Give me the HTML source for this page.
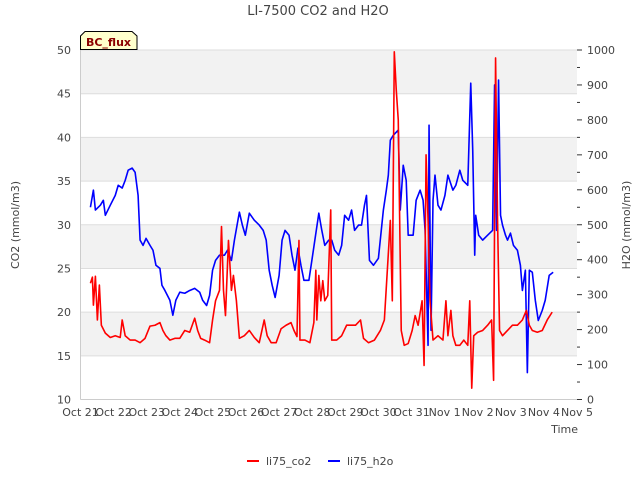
<!DOCTYPE html>
<html><head><meta charset="utf-8"><style>
body{margin:0;background:#fff;}
svg text{font-family:"DejaVu Sans","Liberation Sans",sans-serif;fill:#444;}
</style></head><body>
<svg id="chart" width="640" height="480" xmlns="http://www.w3.org/2000/svg">
<text x="318" y="15" font-size="13" text-anchor="middle">LI-7500 CO2 and H2O</text>
<g id="bands"></g><g id="grid"></g>
<line x1="80.5" y1="50" x2="80.5" y2="399.5" stroke="#ccc"/>
<line x1="80.5" y1="399.5" x2="577" y2="399.5" stroke="#ccc"/>
<g id="lticks"></g><g id="rticks"></g><g id="xticks"></g>
<g id="series"></g>
<text x="19" y="225" font-size="11" text-anchor="middle" transform="rotate(-90 19 225)">CO2 (mmol/m3)</text>
<text x="630" y="225" font-size="11" text-anchor="middle" transform="rotate(-90 630 225)">H2O (mmol/m3)</text>
<text x="578" y="433" font-size="11" text-anchor="end">Time</text>
<g>
<path d="M80.5,49.5 L80.5,36 L85,31.5 L132,31.5 L137,36 L137,49.5 Z" fill="#ffffcc" stroke="#000"/>
<text x="108.5" y="46" font-size="11" font-weight="bold" text-anchor="middle" style="fill:#8b0000">BC_flux</text>
</g>
<g>
<g><line x1="247" y1="461" x2="259" y2="461" stroke="red" stroke-width="2"/><text x="266" y="465" font-size="11">li75_co2</text></g>
<g><line x1="328" y1="461" x2="340" y2="461" stroke="blue" stroke-width="2"/><text x="347" y="465" font-size="11">li75_h2o</text></g>
</g>
</svg>
<script>
const xTickLabels=["Oct 21","Oct 22","Oct 23","Oct 24","Oct 25","Oct 26","Oct 27","Oct 28","Oct 29","Oct 30","Oct 31","Nov 1","Nov 2","Nov 3","Nov 4","Nov 5"];
const co2Ticks=[10,15,20,25,30,35,40,45,50];
const h2oTicks=[0,100,200,300,400,500,600,700,800,900,1000];
const h2oDays=[0.30,0.39,0.45,0.60,0.69,0.75,0.90,1.05,1.14,1.26,1.35,1.44,1.56,1.65,1.74,1.80,1.89,1.98,2.10,2.19,2.28,2.40,2.46,2.55,2.70,2.79,2.88,3.00,3.15,3.30,3.45,3.60,3.69,3.81,3.90,3.99,4.08,4.20,4.35,4.44,4.56,4.65,4.80,4.89,4.98,5.10,5.25,5.40,5.52,5.61,5.70,5.79,5.88,6.00,6.09,6.18,6.30,6.39,6.48,6.57,6.66,6.75,6.90,6.99,7.08,7.20,7.29,7.38,7.50,7.59,7.68,7.80,7.89,7.98,8.10,8.19,8.28,8.40,8.49,8.58,8.64,8.73,8.85,9.00,9.15,9.24,9.30,9.36,9.45,9.60,9.66,9.75,9.84,9.90,10.05,10.14,10.26,10.35,10.41,10.50,10.53,10.59,10.65,10.71,10.80,10.89,11.01,11.10,11.25,11.34,11.46,11.55,11.70,11.79,11.85,11.91,11.94,12.03,12.15,12.30,12.45,12.51,12.57,12.63,12.69,12.75,12.84,12.90,12.99,13.08,13.20,13.29,13.35,13.44,13.50,13.56,13.65,13.74,13.83,13.95,14.04,14.16,14.28];
const h2oVals=[550,599,542,556,570,527,556,584,613,605,627,656,662,650,584,456,441,461,441,427,384,375,327,312,284,241,284,307,304,312,318,307,284,269,298,370,398,413,413,427,398,456,536,499,470,533,513,499,484,456,370,327,292,355,456,484,470,413,370,433,384,341,341,398,456,533,484,441,456,456,427,413,441,527,513,542,484,499,499,556,584,398,384,404,542,599,642,742,756,771,542,670,627,470,470,570,599,570,484,155,785,198,570,642,556,542,584,642,599,613,656,627,613,905,713,413,527,470,456,470,484,900,484,914,527,499,470,456,476,441,427,384,312,370,77,370,364,284,226,255,284,355,364];
const co2Days=[0.30,0.36,0.39,0.45,0.51,0.57,0.63,0.75,0.90,1.05,1.20,1.26,1.35,1.50,1.65,1.80,1.95,2.10,2.25,2.40,2.49,2.58,2.70,2.85,3.00,3.15,3.30,3.45,3.54,3.63,3.75,3.90,3.99,4.08,4.20,4.26,4.32,4.38,4.47,4.56,4.62,4.71,4.80,4.95,5.10,5.25,5.40,5.55,5.64,5.76,5.91,6.06,6.21,6.36,6.45,6.54,6.60,6.63,6.78,6.93,7.05,7.11,7.14,7.20,7.26,7.32,7.38,7.47,7.56,7.59,7.74,7.89,8.04,8.16,8.31,8.46,8.55,8.70,8.88,9.06,9.18,9.36,9.42,9.48,9.54,9.60,9.69,9.78,9.90,10.02,10.11,10.20,10.32,10.38,10.44,10.50,10.56,10.65,10.80,10.95,11.04,11.10,11.19,11.25,11.34,11.46,11.58,11.70,11.76,11.82,11.88,12.00,12.15,12.30,12.42,12.48,12.54,12.60,12.66,12.75,12.90,13.05,13.20,13.35,13.47,13.56,13.65,13.80,13.95,14.10,14.25];
const co2Vals=[23.3,24.0,20.8,24.1,19.1,23.1,18.5,17.6,17.1,17.3,17.1,19.1,17.3,16.8,16.8,16.5,17.0,18.4,18.5,18.8,17.9,17.3,16.8,17.0,17.0,17.9,17.7,19.3,17.9,17.0,16.8,16.5,19.1,21.3,22.5,29.8,22.5,19.6,28.2,22.5,24.2,21.3,17.0,17.3,17.9,17.1,16.5,19.1,17.3,16.5,16.5,18.1,18.5,18.8,17.9,17.2,28.2,16.8,16.8,16.5,18.8,24.8,19.1,24.2,21.3,23.6,21.3,21.9,31.7,16.8,16.8,17.3,18.5,18.5,18.5,19.1,17.0,16.5,16.8,17.9,19.1,30.5,21.3,49.8,45.4,42.0,17.9,16.2,16.4,17.9,19.6,18.5,21.3,13.9,38.0,30.5,21.3,16.8,17.3,16.8,21.3,17.3,20.2,17.3,16.2,16.2,16.8,16.2,21.3,11.3,17.3,17.7,17.9,18.5,19.1,12.2,49.1,30.5,17.9,17.3,17.9,18.5,18.5,19.1,20.2,18.5,17.9,17.7,17.9,19.1,20.0];

const NS="http://www.w3.org/2000/svg";
const X0=80.5,X1=577,YT=50,YB=399.5;
function xs(d){return X0+(X1-X0)*d/15;}
function yl(v){return YB-(YB-YT)*(v-10)/40;}
function yr(v){return YB-(YB-YT)*v/1000;}
function mk(tag,attrs,parent){const e=document.createElementNS(NS,tag);for(const k in attrs)e.setAttribute(k,attrs[k]);document.getElementById(parent).appendChild(e);return e;}

for(let i=0;i<co2Ticks.length-1;i++){
  if(i%2===1){const r=mk('rect',{x:X0,y:yl(co2Ticks[i+1]),width:X1-X0,height:yl(co2Ticks[i])-yl(co2Ticks[i+1]),fill:'#f2f2f2'},'bands');
  
  }
}
co2Ticks.forEach(v=>{
  const g=mk('line',{x1:X0,x2:X1,y1:yl(v),y2:yl(v),stroke:'#ddd'},'grid');
  
  
  const t=mk('text',{x:71,y:yl(v)+4,'font-size':11,'text-anchor':'end'},'lticks');t.textContent=v;
  
  
});
h2oTicks.forEach(v=>{
  const l=mk('line',{x1:X1,x2:X1+5,y1:yr(v),y2:yr(v),stroke:'#333'},'rticks');
  
  
  const t=mk('text',{x:587,y:yr(v)+4,'font-size':11},'rticks');t.textContent=v;
  
  
  if(v<1000){const m=mk('line',{x1:X1,x2:X1+3,y1:yr(v+50),y2:yr(v+50),stroke:'#333'},'rticks');
  
  }
});
xTickLabels.forEach((s,i)=>{
  const t=mk('text',{x:xs(i),y:416,'font-size':11,'text-anchor':'middle'},'xticks');t.textContent=s;
  
  
});
const h=mk('polyline',{points:h2oDays.map((d,i)=>xs(d)+','+yr(h2oVals[i])).join(' '),fill:'none',stroke:'blue','stroke-width':1.6,'stroke-linejoin':'round'},'series');


const c=mk('polyline',{points:co2Days.map((d,i)=>xs(d)+','+yl(co2Vals[i])).join(' '),fill:'none',stroke:'red','stroke-width':1.6,'stroke-linejoin':'round'},'series');


</script>
</body></html>
